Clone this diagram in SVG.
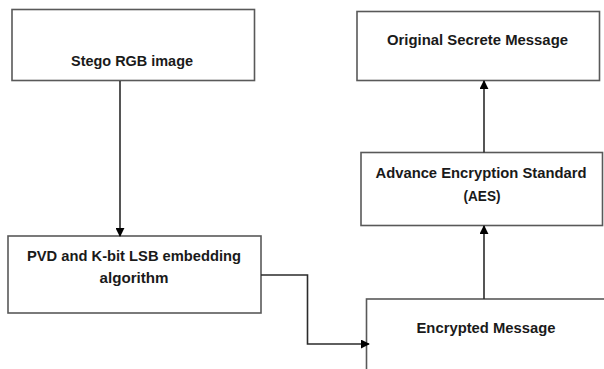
<svg xmlns="http://www.w3.org/2000/svg" width="604" height="369" viewBox="0 0 604 369">
  <defs>
    <marker id="arrow" viewBox="0 0 10 10" refX="9" refY="5" markerWidth="9" markerHeight="9" markerUnits="userSpaceOnUse" orient="auto">
      <path d="M0,0 L10,5 L0,10 Z" fill="#000"/>
    </marker>
  </defs>
  <style>
    .box { fill: #fff; stroke: #595959; stroke-width: 1.6; }
    .label { font-family: "Liberation Sans", Arial, sans-serif; font-weight: bold; font-size: 15px; fill: #1a1a1a; text-anchor: middle; }
    .link { fill: none; stroke: #2b2b2b; stroke-width: 1.6; marker-end: url(#arrow); }
  </style>
  <rect width="604" height="369" fill="#fff"/>

  <g id="stego">
    <rect class="box" x="12" y="9.5" width="242.5" height="71"/>
    <text class="label" x="132" y="65.5" textLength="122" lengthAdjust="spacingAndGlyphs">Stego RGB image</text>
  </g>

  <g id="pvd">
    <rect class="box" x="8" y="236" width="253" height="77"/>
    <text class="label" x="134" y="260.5" textLength="214" lengthAdjust="spacingAndGlyphs">PVD and K-bit LSB embedding</text>
    <text class="label" x="134" y="282.5" textLength="69" lengthAdjust="spacingAndGlyphs">algorithm</text>
  </g>

  <g id="encrypted">
    <rect class="box" x="366.5" y="299" width="250" height="90"/>
    <text class="label" x="486" y="333" textLength="139" lengthAdjust="spacingAndGlyphs">Encrypted Message</text>
  </g>

  <g id="aes">
    <rect class="box" x="361" y="152.5" width="241.5" height="73"/>
    <text class="label" x="481" y="177.5" textLength="211" lengthAdjust="spacingAndGlyphs">Advance Encryption Standard</text>
    <text class="label" x="482" y="200.5" textLength="37" lengthAdjust="spacingAndGlyphs">(AES)</text>
  </g>

  <g id="original">
    <rect class="box" x="357" y="11.5" width="242.5" height="69"/>
    <text class="label" x="477.5" y="44.5" textLength="181" lengthAdjust="spacingAndGlyphs">Original Secrete Message</text>
  </g>

  <g id="connectors">
    <path class="link" d="M120,81 V236"/>
    <path class="link" d="M261,275 H307.5 V344 H369"/>
    <path class="link" d="M484,299 V226"/>
    <path class="link" d="M484,152.5 V81"/>
  </g>
</svg>
